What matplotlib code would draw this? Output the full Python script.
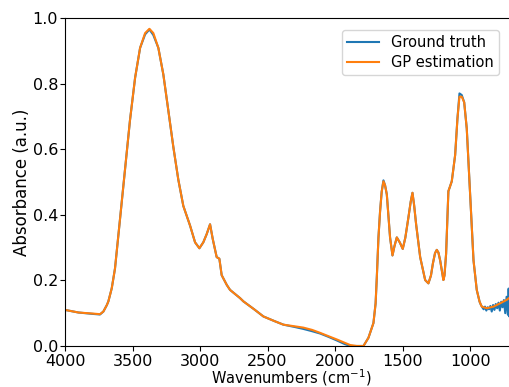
import matplotlib.pyplot as plt
import numpy as np

# Wavenumbers (cm^-1) and absorbance
wn = [4000, 3900, 3800, 3741, 3716, 3690, 3679, 3654, 3630, 3593, 3556, 3519,
      3481, 3444, 3407, 3375, 3346, 3309, 3272, 3235, 3198, 3161, 3124, 3074,
      3037, 3005, 2976, 2951, 2926, 2906, 2877, 2857, 2840, 2802, 2778, 2704,
      2679, 2600, 2531, 2450, 2383, 2300, 2235, 2170, 2111, 2050, 1988, 1930,
      1889, 1840, 1790, 1753, 1716, 1700, 1691, 1679, 1667, 1655, 1642, 1630,
      1617, 1593, 1575, 1560, 1543, 1520, 1499, 1480, 1457, 1440, 1427, 1415,
      1400, 1370, 1333, 1309, 1290, 1276, 1260, 1247, 1235, 1222, 1198, 1190,
      1178, 1161, 1150, 1136, 1111, 1094, 1079, 1062, 1044, 1025, 1000, 975,
      951, 930]

gp = [0.110, 0.102, 0.099, 0.097, 0.105, 0.125, 0.136, 0.176, 0.236, 0.386, 0.537, 0.688,
      0.818, 0.909, 0.954, 0.967, 0.954, 0.909, 0.828, 0.718, 0.607, 0.507, 0.427, 0.367,
      0.316, 0.298, 0.316, 0.341, 0.371, 0.326, 0.271, 0.266, 0.216, 0.186, 0.171, 0.146,
      0.136, 0.112, 0.090, 0.076, 0.065, 0.060, 0.056, 0.049, 0.040, 0.030, 0.020, 0.010,
      0.003, 0.000, 0.000, 0.025, 0.070, 0.130, 0.210, 0.330, 0.410, 0.470, 0.502, 0.490,
      0.462, 0.331, 0.276, 0.305, 0.331, 0.315, 0.296, 0.330, 0.392, 0.440, 0.467, 0.430,
      0.371, 0.271, 0.201, 0.191, 0.215, 0.251, 0.283, 0.293, 0.285, 0.261, 0.201, 0.215,
      0.281, 0.472, 0.485, 0.502, 0.582, 0.693, 0.760, 0.760, 0.743, 0.663, 0.462, 0.261,
      0.171, 0.135]

gt = [0.110, 0.102, 0.098, 0.096, 0.105, 0.125, 0.136, 0.176, 0.236, 0.386, 0.537, 0.688,
      0.818, 0.909, 0.950, 0.965, 0.948, 0.909, 0.828, 0.718, 0.607, 0.507, 0.427, 0.367,
      0.316, 0.298, 0.316, 0.341, 0.371, 0.326, 0.271, 0.266, 0.216, 0.186, 0.171, 0.146,
      0.136, 0.112, 0.090, 0.076, 0.065, 0.058, 0.052, 0.045, 0.038, 0.028, 0.017, 0.006,
      0.000, 0.000, 0.000, 0.025, 0.070, 0.130, 0.210, 0.330, 0.410, 0.470, 0.505, 0.490,
      0.462, 0.331, 0.276, 0.305, 0.331, 0.315, 0.296, 0.330, 0.392, 0.440, 0.467, 0.430,
      0.371, 0.271, 0.201, 0.191, 0.215, 0.251, 0.283, 0.293, 0.285, 0.261, 0.201, 0.215,
      0.281, 0.472, 0.485, 0.502, 0.582, 0.693, 0.770, 0.765, 0.743, 0.663, 0.462, 0.261,
      0.171, 0.135]

# low-wavenumber tail: noisy ground truth, smooth estimate
wn_tail_gt = [920, 910, 900, 890, 880, 870, 860, 850, 840, 830, 820, 810, 800,
              790, 780, 770, 760, 750, 740, 730, 720, 715, 710, 705, 700]
gt_tail = [0.125, 0.118, 0.112, 0.120, 0.108, 0.118, 0.112, 0.122, 0.105, 0.125,
           0.110, 0.128, 0.115, 0.132, 0.108, 0.135, 0.118, 0.140, 0.100, 0.150,
           0.095, 0.175, 0.090, 0.165, 0.120]
wn_tail_gp = [914, 877, 827, 778, 728, 700]
gp_tail = [0.120, 0.115, 0.120, 0.130, 0.141, 0.150]


def main():
    x_gt = np.array(wn + wn_tail_gt)
    y_gt = np.array(gt + gt_tail)
    x_gp = np.array(wn + wn_tail_gp)
    y_gp = np.array(gp + gp_tail)

    fig = plt.figure(figsize=(5.1, 3.87), dpi=100)
    ax = fig.add_axes([0.1275, 0.106, 0.887, 0.8475])

    ax.plot(x_gt, y_gt, color='tab:blue', linewidth=1.5, label='Ground truth')
    ax.plot(x_gp, y_gp, color='tab:orange', linewidth=1.5, label='GP estimation')

    ax.set_xlim(4000, 650)
    ax.set_ylim(0.0, 1.0)
    ax.set_xticks([4000, 3500, 3000, 2500, 2000, 1500, 1000])
    ax.set_yticks([0.0, 0.2, 0.4, 0.6, 0.8, 1.0])
    ax.tick_params(axis='x', labelsize=11.5, pad=2)
    ax.tick_params(axis='y', labelsize=11.5, pad=1.5)
    ax.set_xlabel('Wavenumbers (cm$^{-1}$)', fontsize=10.5, labelpad=-1)
    ax.set_ylabel('Absorbance (a.u.)', fontsize=12, labelpad=1)

    ax.legend(loc='upper right', bbox_to_anchor=(0.975, 0.985), fontsize=10.5,
              borderpad=0.35, labelspacing=0.3, handlelength=2.2)

    fig.savefig('out.png', dpi=100)


if __name__ == "__main__":
    main()
